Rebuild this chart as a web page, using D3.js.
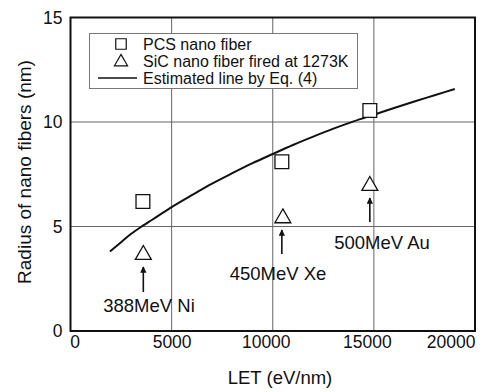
<!DOCTYPE html>
<html>
<head>
<meta charset="utf-8">
<title>Radius of nano fibers</title>
<script src="https://cdn.jsdelivr.net/npm/d3@7"></script>
<style>
  body { margin: 0; background: #fff; }
  text { font-family: Arial, "Liberation Sans", sans-serif; fill: #111; }
</style>
</head>
<body>
<script>
// data
var xTicks = [0, 5000, 10000, 15000, 20000];
var yTicks = [0, 5, 10, 15];
var pcsLET = [3580, 10450, 14800];
var pcsRadius = [6.2, 8.1, 10.55];
var sicLET = [3600, 10500, 14800];
var sicRadius = [3.65, 5.4, 6.95];
var estLET = [1950, 2500, 3000, 3600, 4000, 5000, 6000, 7000, 8000, 9000, 10000,
              11000, 12000, 13000, 14000, 15000, 16000, 17000, 18000, 19000];
var estRadius = [3.8, 4.25, 4.65, 5.05, 5.3, 5.93, 6.5, 7.05, 7.55, 8.03, 8.47,
                 8.9, 9.3, 9.68, 10.03, 10.35, 10.67, 10.98, 11.28, 11.58];
var ionNames = ['388MeV Ni', '450MeV Xe', '500MeV Au'];
var ionLET = [3600, 10450, 14800];
var legendLabels = ['PCS nano fiber', 'SiC nano fiber fired at 1273K', 'Estimated line by Eq. (4)'];

var width = 485, height = 392;
var margin = {left: 70.5, right: 10, top: 17.5, bottom: 61};

var svg = d3.select('body').append('svg')
    .attr('width', width)
    .attr('height', height);

var x = d3.scaleLinear().domain([0, 20000]).range([margin.left, width - margin.right]);
var y = d3.scaleLinear().domain([0, 15]).range([height - margin.bottom, margin.top]);

// grid
svg.append('g').selectAll('line.gx')
    .data(xTicks.slice(1, -1))
    .enter().append('line')
    .attr('x1', function(d) { return x(d); })
    .attr('x2', function(d) { return x(d); })
    .attr('y1', y(0)).attr('y2', y(15))
    .attr('stroke', '#666').attr('stroke-width', 1);
svg.append('g').selectAll('line.gy')
    .data(yTicks.slice(1, -1))
    .enter().append('line')
    .attr('y1', function(d) { return y(d); })
    .attr('y2', function(d) { return y(d); })
    .attr('x1', x(0)).attr('x2', x(20000))
    .attr('stroke', '#666').attr('stroke-width', 1);

// frame
svg.append('rect')
    .attr('x', x(0)).attr('y', y(15))
    .attr('width', x(20000) - x(0)).attr('height', y(0) - y(15))
    .attr('fill', 'none').attr('stroke', '#111').attr('stroke-width', 2);

// axes (labels only, ticks drawn by the frame/grid)
var xAxis = svg.append('g')
    .attr('transform', 'translate(0,' + y(0) + ')')
    .call(d3.axisBottom(x).tickValues(xTicks).tickSize(0).tickPadding(5).tickFormat(d3.format('d')));
xAxis.select('.domain').remove();
xAxis.selectAll('text')
    .style('font-size', '17.5px')
    .style('font-family', 'Arial, "Liberation Sans", sans-serif')
    .attr('fill', '#111')
    .attr('text-anchor', function(d, i) { return i === xTicks.length - 1 ? 'end' : 'middle'; })
    .attr('dx', function(d, i) { return i === 0 ? 4 : (i === 2 || i === 3 ? -7 : 0); });

var yAxis = svg.append('g')
    .attr('transform', 'translate(' + x(0) + ',0)')
    .call(d3.axisLeft(y).tickValues(yTicks).tickSize(0).tickPadding(8));
yAxis.select('.domain').remove();
yAxis.selectAll('text')
    .style('font-size', '17.5px')
    .style('font-family', 'Arial, "Liberation Sans", sans-serif')
    .attr('fill', '#111');

// axis titles
svg.append('text')
    .attr('x', 280).attr('y', 384)
    .attr('text-anchor', 'middle')
    .style('font-size', '18.5px')
    .text('LET (eV/nm)');
svg.append('text')
    .attr('transform', 'translate(31,' + 172 + ') rotate(-90)')
    .attr('text-anchor', 'middle')
    .style('font-size', '19px')
    .text('Radius of nano fibers (nm)');

// estimated line
var line = d3.line()
    .x(function(d, i) { return x(estLET[i]); })
    .y(function(d) { return y(d); })
    .curve(d3.curveMonotoneX);
svg.append('path')
    .datum(estRadius)
    .attr('d', line)
    .attr('fill', 'none')
    .attr('stroke', '#111')
    .attr('stroke-width', 2);

// symbols
var sq = d3.symbol().type(d3.symbolSquare).size(190);
var tri = d3.symbol().type(d3.symbolTriangle).size(110);

svg.append('g').selectAll('path')
    .data(pcsRadius)
    .enter().append('path')
    .attr('d', sq)
    .attr('transform', function(d, i) { return 'translate(' + x(pcsLET[i]) + ',' + y(d) + ')'; })
    .attr('fill', '#fff').attr('stroke', '#111').attr('stroke-width', 1.3);

svg.append('g').selectAll('path')
    .data(sicRadius)
    .enter().append('path')
    .attr('d', tri)
    .attr('transform', function(d, i) { return 'translate(' + x(sicLET[i]) + ',' + y(d) + ')'; })
    .attr('fill', '#fff').attr('stroke', '#111').attr('stroke-width', 1.3);

// arrows and ion labels
var arrowTip = [267, 230, 198];
var arrowEnd = [292, 254, 222];
var labelX = [149, 278, 382];
var labelY = [312, 280, 249];
var defs = svg.append('defs');
defs.append('marker')
    .attr('id', 'head')
    .attr('viewBox', '0 0 10 10')
    .attr('refX', 9).attr('refY', 5)
    .attr('markerWidth', 6).attr('markerHeight', 4)
    .attr('markerUnits', 'strokeWidth')
    .attr('orient', 'auto')
    .append('path')
    .attr('d', 'M0,0 L10,5 L0,10 z')
    .attr('fill', '#111');

ionNames.forEach(function(name, i) {
    svg.append('line')
        .attr('x1', x(ionLET[i])).attr('x2', x(ionLET[i]))
        .attr('y1', arrowEnd[i]).attr('y2', arrowTip[i])
        .attr('stroke', '#111').attr('stroke-width', 1.6)
        .attr('marker-end', 'url(#head)');
    svg.append('text')
        .attr('x', labelX[i]).attr('y', labelY[i])
        .attr('text-anchor', 'middle')
        .style('font-size', '18.5px')
        .text(name);
});

// legend
var lg = svg.append('g');
lg.append('rect')
    .attr('x', 89.5).attr('y', 33.5)
    .attr('width', 268).attr('height', 55)
    .attr('fill', '#fff').attr('stroke', '#777').attr('stroke-width', 1);
var rowY = [44, 61, 78];
lg.append('path').attr('d', d3.symbol().type(d3.symbolSquare).size(110))
    .attr('transform', 'translate(121,' + rowY[0] + ')')
    .attr('fill', 'none').attr('stroke', '#111').attr('stroke-width', 1.2);
lg.append('path').attr('d', d3.symbol().type(d3.symbolTriangle).size(75))
    .attr('transform', 'translate(121,' + (rowY[1] + 1) + ')')
    .attr('fill', 'none').attr('stroke', '#111').attr('stroke-width', 1.2);
lg.append('line')
    .attr('x1', 98).attr('x2', 137).attr('y1', rowY[2]).attr('y2', rowY[2])
    .attr('stroke', '#111').attr('stroke-width', 1.3);
lg.selectAll('text')
    .data(legendLabels)
    .enter().append('text')
    .attr('x', 143)
    .attr('y', function(d, i) { return rowY[i] + 5.5; })
    .style('font-size', '16px')
    .text(function(d) { return d; });
</script>
</body>
</html>
